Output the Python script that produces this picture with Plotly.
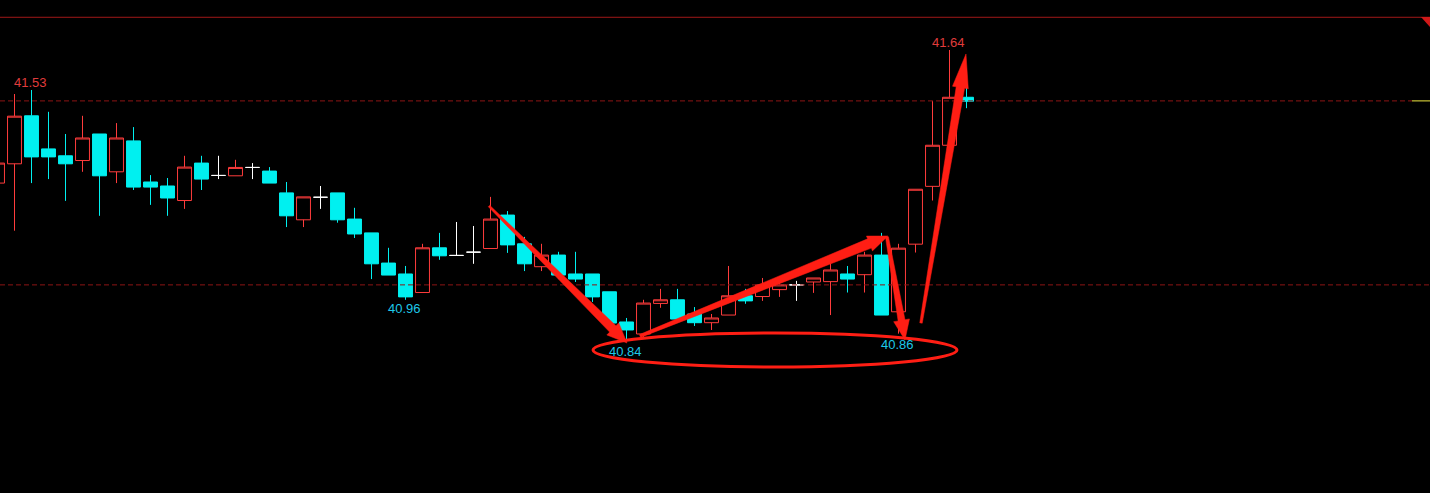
import plotly.graph_objects as go
import math

# ---------------- data ----------------
idx = list(range(-1, 57))
opens = [41.274, 41.327, 41.459, 41.368, 41.349, 41.336, 41.409, 41.305, 41.390, 41.277,
         41.266, 41.226, 41.329, 41.295, 41.294, 41.317, 41.307, 41.247, 41.173, 41.235,
         41.247, 41.175, 41.137, 41.054, 41.024, 40.973, 41.096, 41.075, 41.084, 41.094,
         41.186, 41.107, 41.044, 41.076, 41.024, 41.024, 40.975, 40.892, 40.859, 40.943,
         40.953, 40.914, 40.890, 40.911, 40.964, 40.962, 40.981, 40.994, 41.002, 41.003,
         41.024, 41.022, 41.076, 40.920, 41.106, 41.265, 41.378, 41.510]
highs = [41.340, 41.519, 41.530, 41.470, 41.409, 41.459, 41.409, 41.439, 41.428, 41.296,
         41.288, 41.349, 41.349, 41.349, 41.338, 41.329, 41.318, 41.277, 41.236, 41.266,
         41.247, 41.206, 41.137, 41.096, 41.046, 41.107, 41.137, 41.167, 41.156, 41.236,
         41.197, 41.126, 41.107, 41.085, 41.085, 41.024, 40.975, 40.903, 40.953, 40.983,
         40.983, 40.933, 40.914, 41.046, 40.983, 41.013, 40.999, 41.005, 41.013, 41.055,
         41.046, 41.085, 41.137, 41.107, 41.257, 41.500, 41.640, 41.580]
lows = [41.260, 41.143, 41.274, 41.285, 41.225, 41.305, 41.184, 41.274, 41.255, 41.214,
        41.184, 41.203, 41.255, 41.285, 41.294, 41.285, 41.274, 41.153, 41.153, 41.203,
        41.165, 41.123, 41.010, 41.021, 40.953, 40.973, 41.063, 41.075, 41.052, 41.094,
        41.082, 41.032, 41.032, 41.010, 41.002, 40.947, 40.884, 40.840, 40.851, 40.931,
        40.895, 40.881, 40.870, 40.911, 40.942, 40.950, 40.961, 40.950, 40.972, 40.911,
        40.973, 40.973, 40.911, 40.860, 41.083, 41.226, 41.378, 41.480]
closes = [41.329, 41.458, 41.346, 41.346, 41.327, 41.398, 41.294, 41.398, 41.263, 41.263,
          41.233, 41.318, 41.285, 41.295, 41.317, 41.317, 41.274, 41.184, 41.236, 41.235,
          41.173, 41.134, 41.052, 41.021, 40.961, 41.096, 41.074, 41.075, 41.084, 41.175,
          41.104, 41.052, 41.076, 41.021, 41.010, 40.961, 40.889, 40.870, 40.944, 40.953,
          40.900, 40.890, 40.903, 40.964, 40.950, 40.994, 40.994, 40.994, 41.013, 41.035,
          41.010, 41.076, 40.911, 41.095, 41.257, 41.378, 41.510, 41.499]

label_idx = [1, 55, 23, 36, 52]
label_text = ["41.53", "41.64", "40.96", "40.84", "40.86"]
label_price = [41.53, 41.64, 40.96, 40.84, 40.86]
label_is_high = [True, True, False, False, False]

ref_upper = 41.50
ref_lower = 40.994
top_line = 41.73

# ---------------- styling ----------------
W, H = 1430, 493
RED = "#ff3c3c"
CYAN = "#00f0f0"
ARROW = "#ff1e14"
DASH = "#8c1414"


def pick(cond):
    s = [i for i in range(len(idx)) if cond(opens[i], closes[i])]
    return ([idx[i] for i in s], [opens[i] for i in s], [highs[i] for i in s],
            [lows[i] for i in s], [closes[i] for i in s])


main = pick(lambda o, c: o != c)
doji = pick(lambda o, c: o == c)

fig = go.Figure()
fig.add_trace(go.Candlestick(
    x=main[0], open=main[1], high=main[2], low=main[3], close=main[4],
    increasing=dict(line=dict(color=RED, width=1), fillcolor="rgba(0,0,0,1)"),
    decreasing=dict(line=dict(color=CYAN, width=1), fillcolor=CYAN),
    whiskerwidth=0, hoverinfo="skip", showlegend=False))
fig.add_trace(go.Candlestick(
    x=doji[0], open=doji[1], high=doji[2], low=doji[3], close=doji[4],
    increasing=dict(line=dict(color="#ffffff", width=1), fillcolor="#ffffff"),
    decreasing=dict(line=dict(color="#ffffff", width=1), fillcolor="#ffffff"),
    whiskerwidth=0, hoverinfo="skip", showlegend=False))

# axis mapping: candle i centre at 14.5 + 17*i px; price p at 50 + (41.64-p)*363.6 px
px_per_idx = 17.0
x_lo = (0 - 14.5) / px_per_idx
x_hi = (W - 14.5) / px_per_idx
ppu = 363.6
y_hi = 41.64 + 50 / ppu
y_lo = 41.64 - (H - 50) / ppu


def P(x, y):
    return x / W, 1 - y / H


shapes = []
shapes.append(dict(type="line", xref="paper", yref="y", x0=0, x1=1, y0=top_line, y1=top_line,
                   line=dict(color="#a01818", width=1)))
shapes.append(dict(type="line", xref="paper", yref="y", x0=0, x1=1412 / W, y0=ref_upper, y1=ref_upper,
                   line=dict(color=DASH, width=1, dash="5px,3px")))
shapes.append(dict(type="line", xref="paper", yref="y", x0=1412 / W, x1=1, y0=ref_upper, y1=ref_upper,
                   line=dict(color="#f0e840", width=1)))
shapes.append(dict(type="line", xref="paper", yref="y", x0=0, x1=1, y0=ref_lower, y1=ref_lower,
                   line=dict(color=DASH, width=1, dash="5px,3px")))
a, b, c = P(1421, 17), P(1430, 17), P(1430, 27)
shapes.append(dict(type="path", xref="paper", yref="paper",
                   path=f"M {a[0]} {a[1]} L {b[0]} {b[1]} L {c[0]} {c[1]} Z",
                   fillcolor="#d01818", line=dict(width=0)))


def arrow(x0, y0, x1, y1, w0, w1, hw, hl):
    dx, dy = x1 - x0, y1 - y0
    L = math.hypot(dx, dy)
    ux, uy = dx / L, dy / L
    nx, ny = -uy, ux
    bx, by = x1 - ux * hl, y1 - uy * hl
    pts = [
        (x0 + nx * w0 / 2, y0 + ny * w0 / 2),
        (bx + nx * w1 / 2, by + ny * w1 / 2),
        (bx + nx * hw / 2, by + ny * hw / 2),
        (x1, y1),
        (bx - nx * hw / 2, by - ny * hw / 2),
        (bx - nx * w1 / 2, by - ny * w1 / 2),
        (x0 - nx * w0 / 2, y0 - ny * w0 / 2),
    ]
    pp = [P(*q) for q in pts]
    path = "M " + " L ".join(f"{u:.5f} {v:.5f}" for u, v in pp) + " Z"
    return dict(type="path", xref="paper", yref="paper", path=path,
                fillcolor=ARROW, line=dict(color=ARROW, width=0.5))


shapes.append(arrow(489, 206, 627, 343, 2, 9, 17, 20))
shapes.append(arrow(640, 336, 888, 236, 3, 10, 16, 20))
shapes.append(arrow(887, 237, 905, 340, 3, 7, 16, 20))
shapes.append(arrow(921, 323, 966, 54, 2.5, 8.5, 16, 34))

e0, e1 = P(593, 367), P(957, 333)
shapes.append(dict(type="circle", xref="paper", yref="paper", x0=e0[0], x1=e1[0], y0=e0[1], y1=e1[1],
                   line=dict(color=ARROW, width=3)))

annotations = []
for i, t, p, hi in zip(label_idx, label_text, label_price, label_is_high):
    annotations.append(dict(x=i, y=p, xref="x", yref="y", text=t, showarrow=False,
                            yanchor="middle", xshift=-1, yshift=8 if hi else -11,
                            font=dict(family="Liberation Sans, Arial", size=13,
                                      color="#e03c3c" if hi else "#1ec8e8")))

fig.update_layout(
    width=W, height=H, margin=dict(l=0, r=0, t=0, b=0),
    paper_bgcolor="#000000", plot_bgcolor="#000000",
    boxgap=0.1, boxgroupgap=0.09,
    xaxis=dict(range=[x_lo, x_hi], visible=False, rangeslider=dict(visible=False), fixedrange=True),
    yaxis=dict(range=[y_lo, y_hi], visible=False, fixedrange=True),
    shapes=shapes, annotations=annotations,
)

fig.write_html("out.html", config={"displayModeBar": False},
               post_script="document.body.style.margin='0';document.body.style.background='#000';")
